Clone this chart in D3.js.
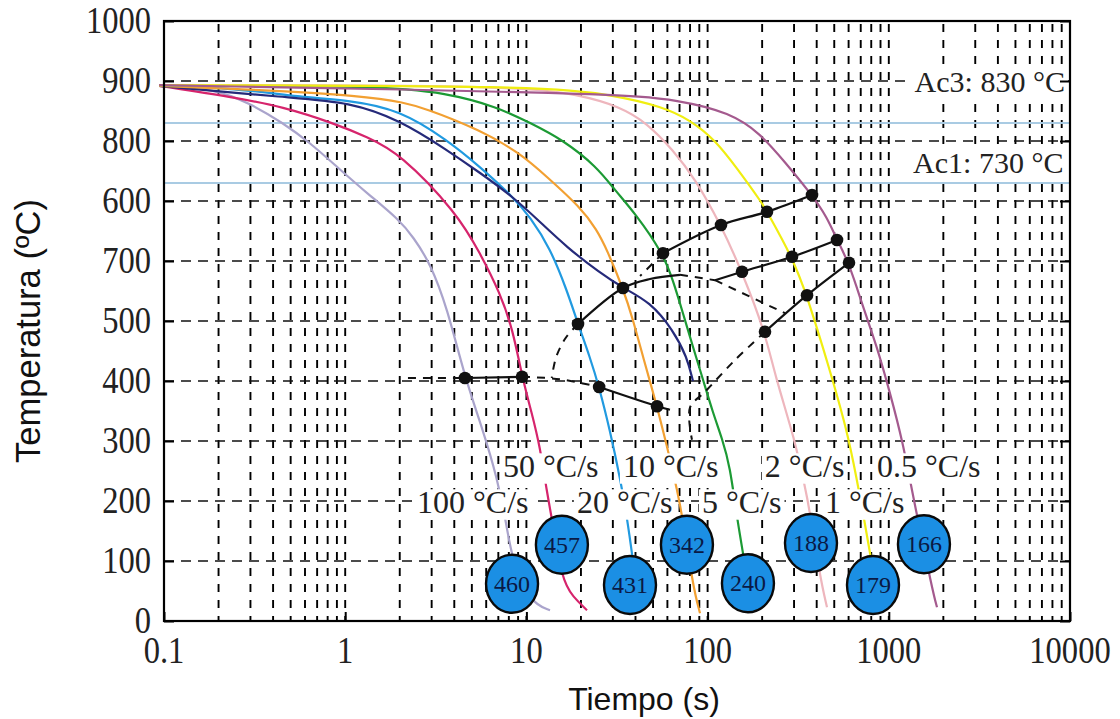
<!DOCTYPE html>
<html><head><meta charset="utf-8">
<script src="https://cdn.jsdelivr.net/npm/d3@7"></script>
<style>
html,body{margin:0;padding:0;background:#fff;}
svg{display:block;}
</style></head>
<body>
<svg id="c" width="1120" height="719"></svg>
<script>
// ---------------- DATA ----------------
const xTickValues = [0.1, 1, 10, 100, 1000, 10000];
const xTickLabels = ["0.1", "1", "10", "100", "1000", "10000"];
const yTickValues = [0, 100, 200, 300, 400, 500, 600, 700, 800, 900, 1000];
const yTickLabels = ["0", "100", "200", "300", "400", "500", "700", "600", "800", "900", "1000"];

const rateNames = ["100 °C/s", "50 °C/s", "20 °C/s", "10 °C/s", "5 °C/s", "2 °C/s", "1 °C/s", "0.5 °C/s"];
// label anchor (time s, temperature °C) : start of text, baseline
const rateLabelAnchors = [[2.49,180],[7.43,240],[19.0,180],[34.1,240],[93.1,180],[207,240],[444,180],[861,240]];

// cooling curves [time s, temperature °C]
const curve100 = [[0.094,892],[0.186,888],[0.298,863],[0.454,830],[0.64,797],[0.90,757],[1.32,713],[2.0,668],[2.37,640],[2.94,597],[3.65,523],[4.58,405],[5.76,318],[6.88,240],[7.81,157],[8.33,102],[10.5,30],[13.5,18]];
const curve50 = [[0.094,892],[0.240,873],[0.454,857],[0.857,830],[1.32,807],[2.0,780],[4.14,680],[5.55,613],[7.15,547],[8.43,485],[9.46,407],[10.7,347],[11.9,290],[13.0,213],[13.8,173],[15.7,68],[18.1,40],[21.6,18]];
const curve20 = [[0.094,892],[0.25,888],[0.564,873],[1.06,868],[2.0,852],[3.65,802],[5.55,757],[8.43,707],[10.5,673],[13.5,622],[16.7,552],[19.27,495],[22.4,440],[25.2,390],[28.9,318],[32.9,238],[35.9,173],[38.7,102],[41.3,35]];
const curveNavy = [[0.094,892],[0.496,872],[1.06,865],[2.0,835],[3.65,785],[5.55,747],[8.43,707],[11.9,665],[16.7,623],[25.5,580],[34.1,555],[48.1,532],[64.5,485],[77,440],[83,400]];
const curve10 = [[0.094,892],[1.56,877],[2.94,852],[5.55,818],[9.22,780],[13.0,740],[19.8,690],[24.5,652],[27.9,618],[34.1,555],[38.8,502],[44.0,440],[52.6,358],[59.7,290],[70.5,202],[83.0,57],[90.8,13]];
const curve5 = [[0.094,893],[1.56,892],[3.65,880],[6.88,857],[10.5,830],[15.9,802],[24.5,757],[30.8,718],[39.7,680],[56.7,613],[64.4,568],[73.1,513],[83.0,457],[94.4,402],[107,347],[120,305],[133,258],[145,173],[157,113],[176,18]];
const curve2 = [[0.094,893],[8.43,893],[19.8,877],[32.9,857],[46.3,830],[64.4,785],[85,738],[118.6,660],[154.8,582],[207.4,482],[235,410],[303,302],[354,213],[417,73],[456,23]];
const curve1 = [[0.094,893],[11.9,892],[30.1,877],[56.7,857],[80,835],[110,802],[145,755],[199.5,697],[212.7,682],[292.3,607],[353.7,543],[473,418],[588,318],[667,235],[721,180],[788,113],[894,18]];
const curve05 = [[0.094,893],[30.1,880],[70.5,868],[133,847],[195,813],[267,765],[376.9,710],[456,673],[517.8,635],[603,597],[721,523],[861,457],[1016,380],[1198,297],[1361,207],[1754,47],[1845,23]];

// critical temperatures
const acValues = [830, 730];
const acLabels = ["Ac3: 830 °C", "Ac1: 730 °C"];
const acLabelAnchors = [[9376,882],[9200,747]];

// transformation lines
const ferriteStart = [[56.7,613],[118.6,660],[212.7,682],[376.9,710]];
const pearliteStart = [[109.9,568],[154.8,582],[292.3,607],[517.8,635]];
const pearliteFinish = [[207.4,482],[353.7,543],[603,597]];
const bainiteStart = [[19.27,495],[34.1,555],[48.1,570],[70.4,577]];
const msSolid1 = [[4.58,405],[9.46,407]];
const msSolid2 = [[25.2,390],[52.6,358],[62,352]];
const dashedLines = [
  [[2.22,405],[4.58,405]],
  [[9.46,407],[15.3,403],[25.2,390]],
  [[19.27,495],[16.5,472],[14.6,440],[13.8,405]],
  [[70.4,577],[109.9,568]],
  [[56.7,613],[42.4,575]],
  [[109.9,568],[267.4,513]],
  [[207.4,482],[141.7,435],[96.8,382],[80,356],[82,302]]
];
const dots = [[56.7,613],[118.6,660],[212.7,682],[376.9,710],[154.8,582],[292.3,607],[517.8,635],
  [207.4,482],[353.7,543],[603,597],[19.27,495],[34.1,555],[4.58,405],[9.46,407],[25.2,390],[52.6,358]];

// hardness bubbles
const hardness = ["460","457","431","342","240","188","179","166"];
const hardnessPos = [[8.33,62],[15.7,127],[37.3,60],[76.9,127],[167,63],[372,130],[818,60],[1563,128]];

// ---------------- CHART ----------------
const svg = d3.select('#c');
const x = d3.scaleLog().domain([0.1, 10000]).range([164, 1070]);
const y = d3.scaleLinear().domain([0, 1000]).range([621, 21]);
const X0 = x.range()[0], X1 = x.range()[1], Y0 = y.range()[0], Y1 = y.range()[1];
const serif = "'Liberation Serif','DejaVu Serif',serif";
const sans = "'Liberation Sans',Arial,sans-serif";

// grid
const grid = svg.append('g');
grid.selectAll('line.v').data(x.ticks().filter(v => v > 0.1001 && v < 9999)).join('line')
  .attr('x1', d => x(d)).attr('x2', d => x(d)).attr('y1', Y1).attr('y2', Y0)
  .attr('stroke', '#000').attr('stroke-width', 1.9).attr('stroke-dasharray', '8,8').attr('stroke-dashoffset', -3);
grid.selectAll('line.h').data(y.ticks(10).filter(v => v > 0 && v < 1000)).join('line')
  .attr('x1', X0).attr('x2', X1).attr('y1', d => y(d)).attr('y2', d => y(d))
  .attr('stroke', '#111').attr('stroke-width', 1.5).attr('stroke-dasharray', '10,7');

// Ac lines
svg.append('g').selectAll('line').data(acValues).join('line')
  .attr('x1', X0).attr('x2', X1).attr('y1', d => y(d)).attr('y2', d => y(d))
  .attr('stroke', '#a9cbe3').attr('stroke-width', 2);

// cooling curves
const curves = [
  {d: curve100, c: '#aaa4cc'}, {d: curve50, c: '#d6246c'}, {d: curve20, c: '#219ae0'},
  {d: curveNavy, c: '#252a7a'}, {d: curve10, c: '#f2a032'}, {d: curve5, c: '#1c9a34'},
  {d: curve2, c: '#eeb6bd'}, {d: curve1, c: '#f0ee10'}, {d: curve05, c: '#a45a8e'}
];
const cLine = d3.line().x(d => x(d[0])).y(d => y(d[1])).curve(d3.curveBasis);
svg.append('g').selectAll('path').data(curves).join('path')
  .attr('d', d => cLine(d.d)).attr('fill', 'none').attr('stroke', d => d.c).attr('stroke-width', 2.2);

// transformation lines
const tLine = d3.line().x(d => x(d[0])).y(d => y(d[1])).curve(d3.curveCatmullRom.alpha(0.5));
const tg = svg.append('g');
[ferriteStart, pearliteStart, pearliteFinish, bainiteStart, msSolid1, msSolid2].forEach(l => {
  tg.append('path').attr('d', tLine(l)).attr('fill', 'none').attr('stroke', '#111').attr('stroke-width', 2.2);
});
dashedLines.forEach(l => {
  tg.append('path').attr('d', tLine(l)).attr('fill', 'none').attr('stroke', '#111')
    .attr('stroke-width', 2).attr('stroke-dasharray', '8,7');
});
tg.selectAll('circle').data(dots).join('circle')
  .attr('cx', d => x(d[0])).attr('cy', d => y(d[1])).attr('r', 6.3).attr('fill', '#111');

// labels with white background
function bgLabel(g, txt, px, py, fs, anchor) {
  const t = g.append('text').attr('x', px).attr('y', py).attr('font-family', serif)
    .attr('font-size', fs).attr('text-anchor', anchor).attr('fill', '#222').text(txt);
  const b = t.node().getBBox();
  g.insert('rect', () => t.node()).attr('x', b.x - 3).attr('width', b.width + 6)
    .attr('y', py - fs * 0.74).attr('height', fs * 0.95).attr('fill', '#fff');
}
const lg = svg.append('g');
rateNames.forEach((n, i) => bgLabel(lg, n, x(rateLabelAnchors[i][0]), y(rateLabelAnchors[i][1]), 32, 'start'));
acLabels.forEach((n, i) => bgLabel(lg, n, x(acLabelAnchors[i][0]), y(acLabelAnchors[i][1]), 30, 'end'));

// bubbles
const bg = svg.append('g').selectAll('g').data(hardness).join('g')
  .attr('transform', (d, i) => `translate(${x(hardnessPos[i][0])},${y(hardnessPos[i][1])})`);
bg.append('ellipse').attr('rx', 26).attr('ry', 29).attr('fill', '#1b8fe4').attr('stroke', '#0a0a0a').attr('stroke-width', 2.4);
bg.append('text').attr('y', 8).attr('text-anchor', 'middle').attr('font-family', serif)
  .attr('font-size', 24).attr('fill', '#0a1a45').text(d => d);

// frame and ticks
svg.append('rect').attr('x', X0).attr('y', Y1).attr('width', X1 - X0).attr('height', Y0 - Y1)
  .attr('fill', 'none').attr('stroke', '#000').attr('stroke-width', 2.2);
const ax = svg.append('g');
ax.append('g').attr('transform', `translate(0,${Y0})`)
  .call(d3.axisBottom(x).tickValues(xTickValues).tickSize(-9).tickFormat(''))
  .call(g => g.select('.domain').remove());
ax.append('g').attr('transform', `translate(${X0},0)`)
  .call(d3.axisLeft(y).tickValues(yTickValues).tickSize(-10).tickFormat(''))
  .call(g => g.select('.domain').remove());
ax.append('g').attr('transform', `translate(${X1},0)`)
  .call(d3.axisRight(y).tickValues(yTickValues).tickSize(-10).tickFormat(''))
  .call(g => g.select('.domain').remove());
ax.selectAll('.tick line').attr('stroke', '#000').attr('stroke-width', 2);

// tick labels
svg.append('g').selectAll('text').data(xTickValues).join('text')
  .attr('transform', d => `translate(${x(d)},663) scale(0.88,1)`)
  .attr('text-anchor', 'middle').attr('font-family', serif).attr('font-size', 37).attr('fill', '#222')
  .text((d, i) => xTickLabels[i]);
svg.append('g').selectAll('text').data(yTickValues).join('text')
  .attr('transform', d => `translate(151,${y(d) + 12}) scale(0.88,1)`)
  .attr('text-anchor', 'end').attr('font-family', serif).attr('font-size', 37).attr('fill', '#222')
  .text((d, i) => yTickLabels[i]);

// axis titles
svg.append('text').attr('x', 644).attr('y', 710).attr('text-anchor', 'middle')
  .attr('font-family', sans).attr('font-size', 32).attr('fill', '#111').text('Tiempo (s)');
svg.append('text').attr('transform', 'translate(40,331) rotate(-90)').attr('text-anchor', 'middle')
  .attr('font-family', sans).attr('font-size', 34.5).attr('fill', '#111').text('Temperatura (ºC)');
</script>
</body></html>
